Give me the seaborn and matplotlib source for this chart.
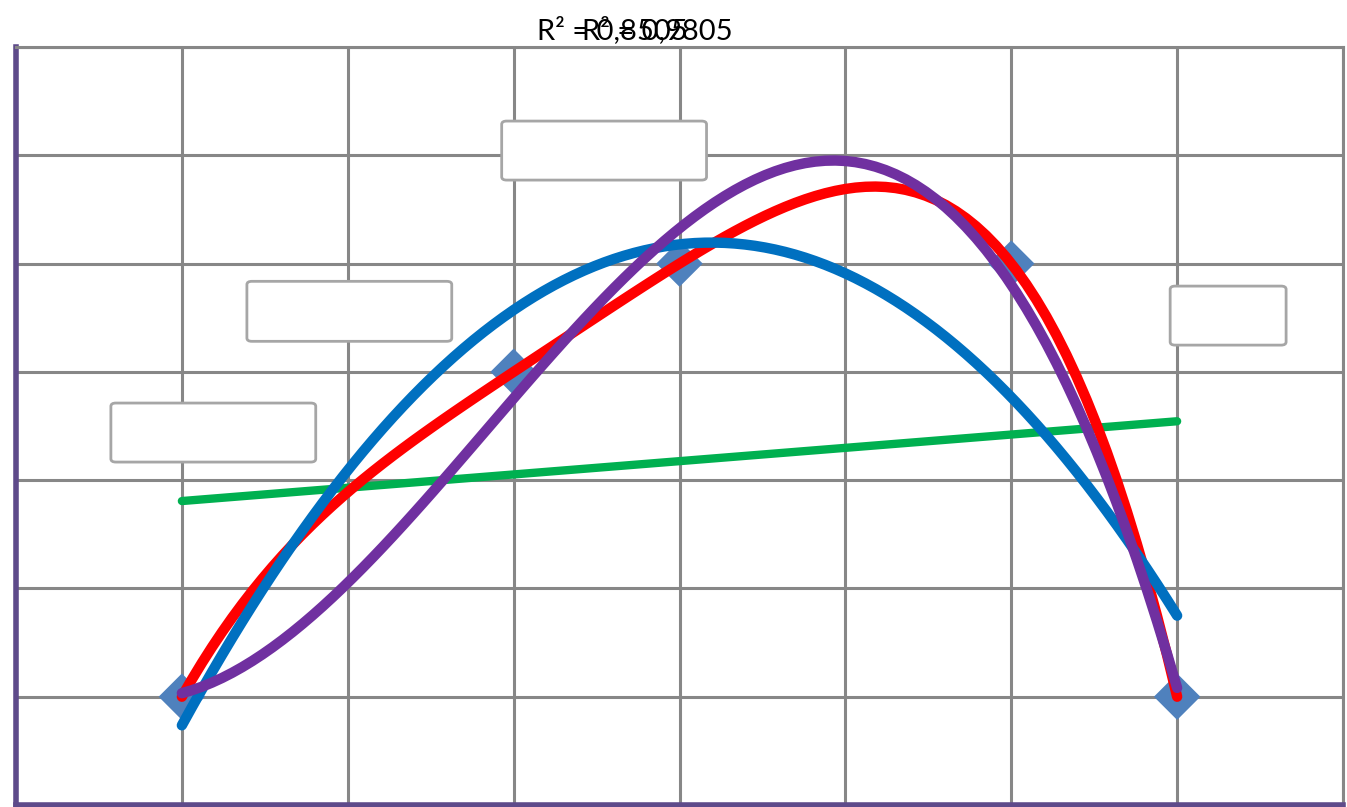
import matplotlib
matplotlib.use("Agg")
import matplotlib.pyplot as plt
import seaborn as sns
import pandas as pd
from matplotlib.patches import FancyBboxPatch

# ---- data ----
x_vals = [1, 3, 4, 6, 7]
y_vals = [1, 4, 5, 5, 1]
r2_labels = ["R² = 0,8505", "R² = 0,9805"]
trend_orders = [1, 4, 2, 3]
trend_colors = ["#00B050", "#FF0000", "#0070C0", "#7030A0"]
trend_widths = [6.0, 7.5, 7.5, 7.5]

df = pd.DataFrame({"x": x_vals, "y": y_vals})

sns.set_style("white")
plt.rcParams["font.family"] = ["Lato", "DejaVu Sans"]

fig = plt.figure(figsize=(13.47, 8.07), dpi=100)
ax = fig.add_axes([16 / 1347, 2 / 807, (1343 - 16) / 1347, (805 - 47) / 807])

sns.scatterplot(data=df, x="x", y="y", marker="D", s=560, color="#4F81BD",
                edgecolor="none", ax=ax, zorder=2, legend=False)

for order, col, lw in zip(trend_orders, trend_colors, trend_widths):
    sns.regplot(data=df, x="x", y="y", order=order, ci=None, scatter=False,
                truncate=True, ax=ax,
                line_kws={"color": col, "lw": lw, "solid_capstyle": "round", "zorder": 3})

ax.set_xlim(0, 8)
ax.set_ylim(0, 7)
ax.set_xticks(range(0, 9))
ax.set_yticks(range(0, 8))
ax.set_xticklabels([])
ax.set_yticklabels([])
ax.tick_params(length=0)
ax.set_xlabel("")
ax.set_ylabel("")
ax.grid(True, color="#878787", lw=2.2)
ax.set_axisbelow(True)
for side in ["top", "right"]:
    ax.spines[side].set_color("#878787")
    ax.spines[side].set_linewidth(2.2)
for side in ["left", "bottom"]:
    ax.spines[side].set_color("#5E4A8A")
    ax.spines[side].set_linewidth(4)

# empty label boxes
boxes = [(0.572, 3.167, 1.235, 0.545), (1.392, 4.282, 1.235, 0.554),
         (2.928, 5.771, 1.235, 0.545), (6.958, 4.247, 0.699, 0.545)]
for bx, by, bw, bh in boxes:
    ax.add_patch(FancyBboxPatch((bx, by), bw, bh,
                                boxstyle="round,pad=0,rounding_size=0.03",
                                facecolor="white", edgecolor="#A6A6A6", lw=2, zorder=4))

fig.text(537 / 1347, 1 - 39 / 807, r2_labels[0], ha="left", va="baseline",
         fontsize=21, color="black")
fig.text(582 / 1347, 1 - 39 / 807, r2_labels[1], ha="left", va="baseline",
         fontsize=21, color="black")

fig.savefig("out.png", dpi=100, facecolor="white")
